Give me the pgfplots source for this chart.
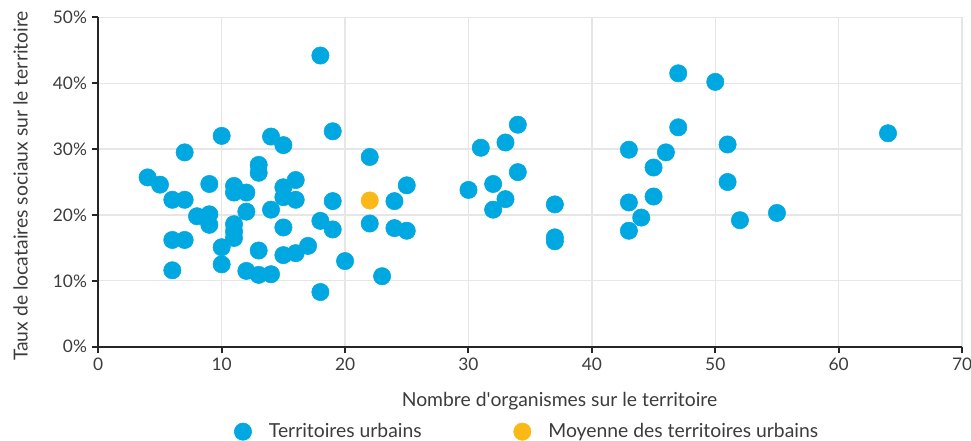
\documentclass[border=0pt]{standalone}
\usepackage{pgfplots}
\pgfplotsset{compat=1.18}
\usepackage{fontspec}
\setmainfont{Lato}

\definecolor{urbain}{RGB}{0,168,225}
\definecolor{moyenne}{RGB}{251,185,24}
\definecolor{gridgray}{RGB}{230,230,230}
\definecolor{txt}{RGB}{60,60,60}

\pgfplotstableread{
x y
18 44.2
19 32.7
10 32.0
14 31.9
15 30.6
7 29.5
22 28.8
13 27.6
13 26.4
4 25.7
5 24.6
9 24.7
11 24.4
11 23.4
12 23.4
15 24.2
15 22.7
16 25.3
16 22.3
6 22.3
7 22.3
19 22.1
24 22.1
25 24.5
8 19.8
9 20.1
9 18.5
12 20.5
14 20.8
11 18.6
11 17.5
11 16.5
15 18.1
18 19.1
19 17.8
22 18.7
24 18.0
25 17.6
6 16.2
7 16.2
10 15.1
13 14.6
15 13.9
16 14.2
17 15.3
20 13.0
6 11.6
10 12.5
12 11.5
13 10.9
14 11.0
23 10.7
18 8.3
30 23.8
31 30.2
32 24.7
32 20.8
33 31.0
33 22.4
34 33.7
34 26.5
37 21.6
37 16.6
37 16.0
43 29.9
43 21.9
43 17.6
44 19.6
45 27.2
45 22.8
46 29.5
47 41.5
47 33.3
50 40.2
51 30.7
51 25.0
52 19.2
55 20.3
64 32.4
}\urbains

\begin{document}
\begin{tikzpicture}
\useasboundingbox (-73.7pt,-70.7pt) rectangle (654.5pt,260pt);
\begin{axis}[
    scale only axis,
    width=647.8pt,
    height=247pt,
    xmin=0, xmax=70,
    ymin=0, ymax=50,
    xtick={0,10,...,70},
    ytick={0,10,...,50},
    yticklabel={\pgfmathprintnumber{\tick}\%},
    /pgf/number format/assume math mode=true,
    axis lines=left,
    axis line style={-, line width=1.5pt, black!85},
    tick style={line width=1.5pt, black!85},
    tick align=outside,
    major tick length=5pt,
    grid=major,
    grid style={gridgray, line width=1pt},
    ticklabel style={font=\fontsize{13}{15}\selectfont, text=txt},
    xlabel={Nombre d\textquotesingle organismes sur le territoire},
    ylabel={Taux de locataires sociaux sur le territoire},
    label style={font=\fontsize{14.5}{16}\selectfont, text=txt},
    xlabel style={yshift=-9pt, xshift=22pt},
    ylabel style={yshift=12pt, xshift=-3pt},
    clip=false,
    legend columns=2,
    legend style={
        at={(0.497,-0.258)}, anchor=center, draw=none,
        font=\fontsize{14.5}{16}\selectfont, text=txt,
        /tikz/every odd column/.append style={column sep=11pt},
        /tikz/every even column/.append style={column sep=67pt}
    },
]
\addplot[only marks, mark=*, mark size=6.5pt, color=urbain] table[x=x, y=y] {\urbains};
\addlegendentry{Territoires urbains}
\addplot[only marks, mark=*, mark size=6.5pt, color=moyenne] coordinates {(22,22.2)};
\addlegendentry{Moyenne des territoires urbains}
\end{axis}
\end{tikzpicture}
\end{document}
